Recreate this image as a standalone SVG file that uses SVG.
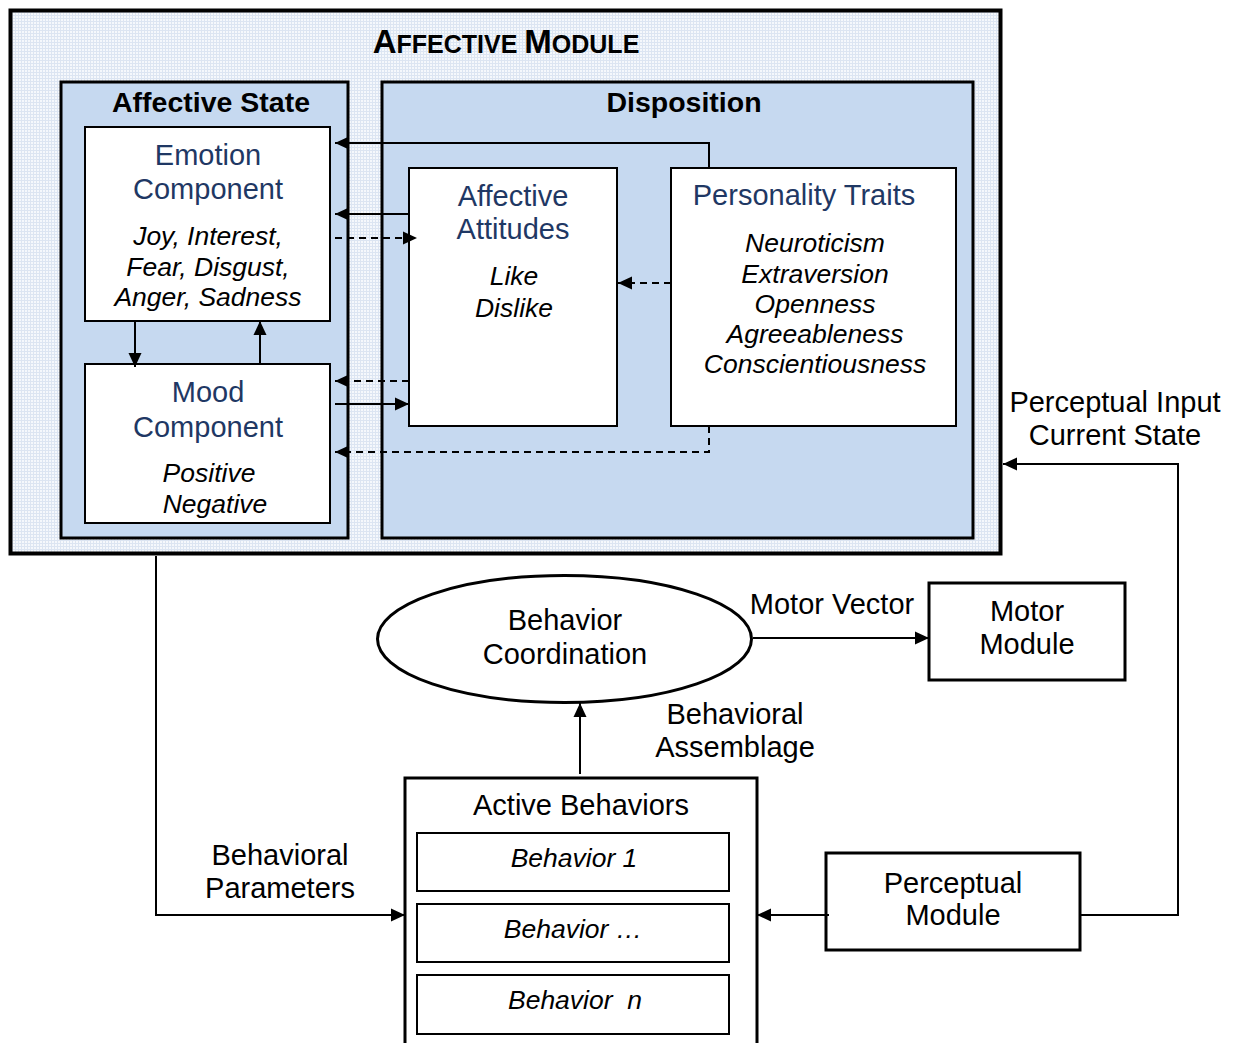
<svg xmlns="http://www.w3.org/2000/svg" width="1241" height="1043" viewBox="0 0 1241 1043">
  <style>
    .sans { font-family: "Liberation Sans", Arial, sans-serif; }
    .title { font-weight: bold; fill: #000; }
    .blue { fill: #1F3864; font-size: 29px; }
    .item { font-style: italic; font-size: 26.5px; fill: #000; }
    .lbl { font-size: 29px; fill: #000; }
    .panel { fill: #C6D9F0; stroke: #000; stroke-width: 3; }
    .box { fill: #fff; stroke: #000; stroke-width: 2; }
    .thick { fill: #fff; stroke: #000; stroke-width: 3; }
    .wire { fill: none; stroke: #000; stroke-width: 2; }
    .dash { fill: none; stroke: #000; stroke-width: 2; stroke-dasharray: 7 5; }
  </style>
  <defs>
    <pattern id="grid" width="3" height="3" patternUnits="userSpaceOnUse">
      <rect width="3" height="3" fill="#F5F8FC"/>
      <path d="M0 0.5H3M0.5 0V3" stroke="#DCE5F2" stroke-width="1"/>
    </pattern>
    <marker id="ah" markerUnits="userSpaceOnUse" markerWidth="15" markerHeight="14" refX="14" refY="7" orient="auto">
      <path d="M0 0.5 L14 7 L0 13.5 Z" fill="#000"/>
    </marker>
  </defs>
  <rect width="1241" height="1043" fill="#fff"/>

  <!-- Affective module container -->
  <g id="affective-module">
    <rect x="10.5" y="10.5" width="990" height="543" fill="url(#grid)" stroke="#000" stroke-width="4"/>
    <text class="sans title" x="506" y="53" text-anchor="middle"><tspan font-size="33">A</tspan><tspan font-size="25">FFECTIVE </tspan><tspan font-size="33">M</tspan><tspan font-size="25">ODULE</tspan></text>
  </g>

  <g id="affective-state">
    <rect class="panel" x="61" y="82" width="287" height="456"/>
    <text class="sans title" x="211" y="112" font-size="28.5" text-anchor="middle">Affective State</text>
  </g>

  <g id="disposition">
    <rect class="panel" x="382" y="82" width="591" height="456"/>
    <text class="sans title" x="684" y="112" font-size="28.5" text-anchor="middle">Disposition</text>
  </g>

  <g id="emotion-component">
    <rect class="box" x="85" y="127" width="245" height="194"/>
    <text class="sans blue" x="208" y="165" text-anchor="middle">Emotion</text>
    <text class="sans blue" x="208" y="199" text-anchor="middle">Component</text>
    <text class="sans item" x="208" y="245" text-anchor="middle">Joy, Interest,</text>
    <text class="sans item" x="208" y="276" text-anchor="middle">Fear, Disgust,</text>
    <text class="sans item" x="208" y="306" text-anchor="middle">Anger, Sadness</text>
  </g>

  <g id="mood-component">
    <rect class="box" x="85" y="364" width="245" height="159"/>
    <text class="sans blue" x="208" y="402" text-anchor="middle">Mood</text>
    <text class="sans blue" x="208" y="437" text-anchor="middle">Component</text>
    <text class="sans item" x="209" y="482" text-anchor="middle">Positive</text>
    <text class="sans item" x="215" y="513" text-anchor="middle">Negative</text>
  </g>

  <g id="affective-attitudes">
    <rect class="box" x="409" y="168" width="208" height="258"/>
    <text class="sans blue" x="513" y="206" text-anchor="middle">Affective</text>
    <text class="sans blue" x="513" y="239" text-anchor="middle">Attitudes</text>
    <text class="sans item" x="514" y="285" text-anchor="middle">Like</text>
    <text class="sans item" x="514" y="317" text-anchor="middle">Dislike</text>
  </g>

  <g id="personality-traits">
    <rect class="box" x="671" y="168" width="285" height="258"/>
    <text class="sans blue" x="804" y="205" text-anchor="middle">Personality Traits</text>
    <text class="sans item" x="815" y="252" text-anchor="middle">Neuroticism</text>
    <text class="sans item" x="815" y="283" text-anchor="middle">Extraversion</text>
    <text class="sans item" x="815" y="313" text-anchor="middle">Openness</text>
    <text class="sans item" x="815" y="343" text-anchor="middle">Agreeableness</text>
    <text class="sans item" x="815" y="373" text-anchor="middle">Conscientiousness</text>
  </g>

  <g id="behavior-coordination">
    <ellipse cx="564.5" cy="639" rx="187" ry="63.5" fill="#fff" stroke="#000" stroke-width="3"/>
    <text class="sans lbl" x="565" y="630" text-anchor="middle">Behavior</text>
    <text class="sans lbl" x="565" y="664" text-anchor="middle">Coordination</text>
  </g>

  <g id="motor-module">
    <rect class="thick" x="929" y="583" width="196" height="97"/>
    <text class="sans lbl" x="1027" y="621" text-anchor="middle">Motor</text>
    <text class="sans lbl" x="1027" y="654" text-anchor="middle">Module</text>
  </g>

  <g id="active-behaviors">
    <rect class="thick" x="405" y="778" width="352" height="280"/>
    <text class="sans lbl" x="581" y="815" text-anchor="middle">Active Behaviors</text>
    <rect class="box" x="417" y="833" width="312" height="58"/>
    <text class="sans item" x="574" y="867" font-size="25.5" text-anchor="middle">Behavior 1</text>
    <rect class="box" x="417" y="904" width="312" height="58"/>
    <text class="sans item" x="573" y="938" font-size="25.5" text-anchor="middle">Behavior …</text>
    <rect class="box" x="417" y="975" width="312" height="59"/>
    <text class="sans item" x="575" y="1009" font-size="25.5" text-anchor="middle" xml:space="preserve">Behavior  n</text>
  </g>

  <g id="perceptual-module">
    <rect class="thick" x="826" y="853" width="254" height="97"/>
    <text class="sans lbl" x="953" y="893" text-anchor="middle">Perceptual</text>
    <text class="sans lbl" x="953" y="925" text-anchor="middle">Module</text>
  </g>

  <!-- Connectors -->
  <g id="connectors">
    <path class="wire" d="M709 168 V143 H335" marker-end="url(#ah)"/>
    <path class="wire" d="M409 214 H335" marker-end="url(#ah)"/>
    <path class="dash" d="M335 238 H417" marker-end="url(#ah)"/>
    <path class="dash" d="M671 283 H618" marker-end="url(#ah)"/>
    <path class="dash" d="M409 381 H335" marker-end="url(#ah)"/>
    <path class="wire" d="M335 404 H409" marker-end="url(#ah)"/>
    <path class="dash" d="M709 426 V452 H335" marker-end="url(#ah)"/>
    <path class="wire" d="M135 321 V367" marker-end="url(#ah)"/>
    <path class="wire" d="M260 364 V321" marker-end="url(#ah)"/>

    <path class="wire" d="M156 556 V915 H405" marker-end="url(#ah)"/>
    <path class="wire" d="M580 774 V703" marker-end="url(#ah)"/>
    <path class="wire" d="M753 638 H929" marker-end="url(#ah)"/>
    <path class="wire" d="M829 915 H757" marker-end="url(#ah)"/>
    <path class="wire" d="M1081 915 H1178 V464 H1003" marker-end="url(#ah)"/>
  </g>

  <!-- Connector labels -->
  <g id="labels">
    <text class="sans lbl" x="832" y="614" text-anchor="middle">Motor Vector</text>
    <text class="sans lbl" x="735" y="724" text-anchor="middle">Behavioral</text>
    <text class="sans lbl" x="735" y="757" text-anchor="middle">Assemblage</text>
    <text class="sans lbl" x="280" y="865" text-anchor="middle">Behavioral</text>
    <text class="sans lbl" x="280" y="898" text-anchor="middle">Parameters</text>
    <text class="sans lbl" x="1115" y="412" text-anchor="middle">Perceptual Input</text>
    <text class="sans lbl" x="1115" y="445" text-anchor="middle">Current State</text>
  </g>
</svg>
